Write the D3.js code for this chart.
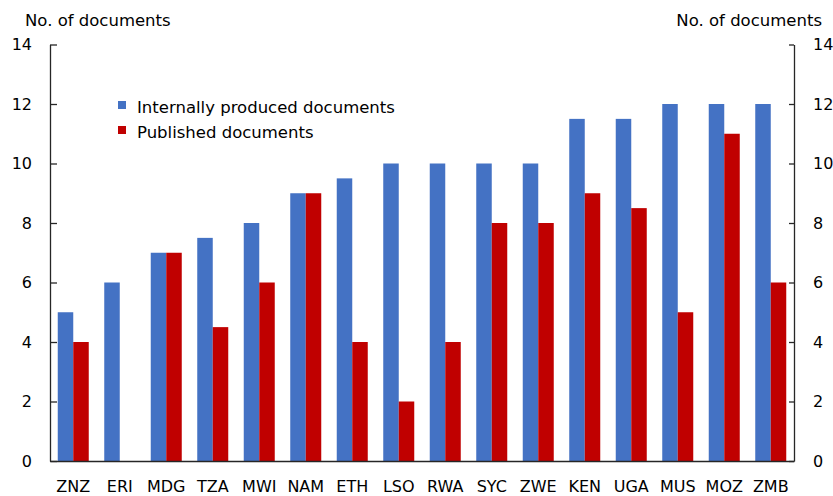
<!DOCTYPE html>
<html>
<head>
<meta charset="utf-8">
<script src="https://cdn.jsdelivr.net/npm/d3@7"></script>
<style>
  html, body { margin: 0; padding: 0; background: #fff; }
  svg { display: block; }
</style>
</head>
<body>
<div id="chart"></div>
<script>
// Data
const countries = ['ZNZ', 'ERI', 'MDG', 'TZA', 'MWI', 'NAM', 'ETH', 'LSO', 'RWA', 'SYC', 'ZWE', 'KEN', 'UGA', 'MUS', 'MOZ', 'ZMB'];
const internalDocs = [5, 6, 7, 7.5, 8, 9, 9.5, 10, 10, 10, 10, 11.5, 11.5, 12, 12, 12];
const publishedDocs = [4, 0, 7, 4.5, 6, 9, 4, 2, 4, 8, 8, 9, 8.5, 5, 11, 6];
const seriesNames = ['Internally produced documents', 'Published documents'];
const seriesColors = ['#4472C4', '#C00000'];
const yTicks = [0, 2, 4, 6, 8, 10, 12, 14];
const axisTitle = 'No. of documents';

const width = 833, height = 496;
const plot = { left: 50, right: 794, top: 44.5, bottom: 461 };
const FONT = '"DejaVu Sans", Verdana, sans-serif';

const svg = d3.select('#chart').append('svg')
    .attr('width', width).attr('height', height)
    .attr('viewBox', `0 0 ${width} ${height}`);

// Scales
const x = d3.scaleBand().domain(countries).range([plot.left, plot.right]).paddingInner(1 / 3).paddingOuter(1 / 6);
const xs = d3.scaleBand().domain([0, 1]).range([0, x.bandwidth()]);
const y = d3.scaleLinear().domain([0, 14]).range([plot.bottom, plot.top]);

// Bars
const rows = countries.map((c, i) => ({ c, vals: [internalDocs[i], publishedDocs[i]] }));
const groups = svg.append('g').selectAll('g').data(rows).join('g')
    .attr('transform', d => `translate(${x(d.c)},0)`);
groups.selectAll('rect').data(d => d.vals.map((v, k) => ({ v, k }))).join('rect')
    .attr('x', d => xs(d.k))
    .attr('width', xs.bandwidth())
    .attr('y', d => y(d.v))
    .attr('height', d => y(0) - y(d.v))
    .attr('fill', d => seriesColors[d.k]);

const styleAxis = ax => {
    ax.select('.domain').attr('stroke', '#262626').attr('stroke-width', 1.3);
    ax.selectAll('line').attr('stroke', '#262626').attr('stroke-width', 1.3);
    ax.selectAll('text').attr('fill', '#000').attr('font-size', 16).attr('font-family', FONT);
};

// Left axis
svg.append('g').attr('transform', `translate(${plot.left},0)`)
    .call(d3.axisLeft(y).tickValues(yTicks).tickSizeInner(-7).tickSizeOuter(0).tickPadding(18))
    .call(styleAxis);

// Right axis
svg.append('g').attr('transform', `translate(${plot.right},0)`)
    .call(d3.axisRight(y).tickValues(yTicks).tickSizeInner(-5).tickSizeOuter(0).tickPadding(19))
    .call(styleAxis);

// Bottom axis
svg.append('g').attr('transform', `translate(0,${plot.bottom})`)
    .call(d3.axisBottom(x).tickSize(0).tickPadding(20))
    .call(styleAxis);

// Axis titles
svg.append('text').attr('x', 25).attr('y', 26)
    .attr('font-size', 16.5).attr('font-family', FONT).attr('fill', '#000').text(axisTitle);
svg.append('text').attr('x', 822).attr('y', 26).attr('text-anchor', 'end')
    .attr('font-size', 16.5).attr('font-family', FONT).attr('fill', '#000').text(axisTitle);

// Legend
const legend = svg.append('g').attr('transform', 'translate(118,101)');
seriesNames.forEach((name, i) => {
    const row = legend.append('g').attr('transform', `translate(0,${i * 25})`);
    row.append('rect').attr('width', 8).attr('height', 8).attr('fill', seriesColors[i]);
    row.append('text').attr('x', 19).attr('y', 12)
        .attr('font-size', 16.5).attr('font-family', FONT).attr('fill', '#000').text(name);
});
</script>
</body>
</html>
